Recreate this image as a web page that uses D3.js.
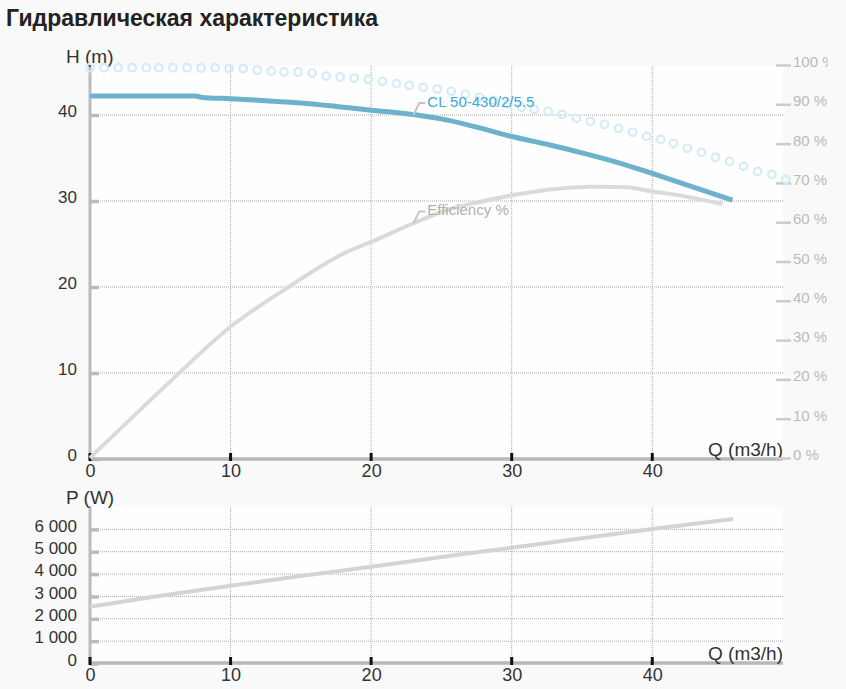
<!DOCTYPE html>
<html>
<head>
<meta charset="utf-8">
<script src="https://cdn.jsdelivr.net/npm/d3@7"></script>
<style>
  body { margin: 0; background: #f9f9f9; font-family: "Liberation Sans", Arial, sans-serif; }
  svg { display: block; overflow: hidden; }
</style>
</head>
<body>
<svg id="chart" width="828" height="689"></svg>
<script>
// head curve H (m) vs Q (m3/h)
const headQ = [0, 2.5, 5, 7.5, 8, 10, 12.5, 15, 17.5, 20, 22.5, 25, 27.5, 30, 32.5, 35, 37.5, 40, 42.5, 45.7];
const headH = [42.2, 42.2, 42.2, 42.2, 42.05, 41.9, 41.65, 41.4, 41.0, 40.55, 40.15, 39.55, 38.6, 37.5, 36.6, 35.6, 34.5, 33.2, 31.85, 30.1];

// efficiency % vs Q
const effQ = [0, 5.3, 10, 14, 18.3, 20, 23, 25.4, 27.8, 30.1, 33.5, 35.6, 36.3, 38.2, 40, 41.8, 43.4, 45];
const effV = [0, 18.1, 33.4, 43.2, 52.5, 55.0, 59.7, 63.1, 65.2, 66.9, 68.6, 69.0, 69.0, 68.9, 67.8, 66.9, 65.8, 64.6];

// upper (dotted) curve, H (m)
const maxQ = [0, 1, 2, 3, 4, 4.9, 5.9, 6.9, 7.9, 8.9, 9.9, 10.9, 11.9, 12.9, 13.8, 14.8, 15.8, 16.8, 17.8, 18.8,
  19.8, 20.8, 21.8, 22.7, 23.7, 24.7, 25.7, 26.7, 27.7, 28.7, 29.7, 30.7, 31.6, 32.6, 33.6, 34.6, 35.6, 36.6,
  37.6, 38.6, 39.6, 40.6, 41.5, 42.5, 43.5, 44.5, 45.5, 46.5, 47.5, 48.5, 49.5];
const maxH = [45.5, 45.5, 45.5, 45.5, 45.5, 45.5, 45.5, 45.5, 45.47, 45.5, 45.4, 45.4, 45.23, 45.12, 45.0, 45.0,
  44.88, 44.53, 44.42, 44.3, 44.15, 43.92, 43.65, 43.45, 43.22, 43.02, 42.76, 42.41, 42.06, 41.71, 41.3, 40.9,
  40.66, 40.43, 40.08, 39.62, 39.27, 38.92, 38.45, 37.99, 37.52, 37.17, 36.71, 36.13, 35.66, 35.08, 34.62,
  34.03, 33.45, 33.1, 32.52];

// power P (W) vs Q
const powQ = [0, 5, 10, 15, 20, 25, 30, 35, 40, 45.75];
const powW = [2540, 3030, 3480, 3910, 4330, 4760, 5180, 5600, 6020, 6460];

const qTicks = [0, 10, 20, 30, 40];
const hTicks = [0, 10, 20, 30, 40];
const effTicks = [0, 10, 20, 30, 40, 50, 60, 70, 80, 90, 100];
const pTicks = [0, 1000, 2000, 3000, 4000, 5000, 6000];

const svg = d3.select("#chart");
const left = 90, right = 783;

svg.append("text")
  .attr("x", 6).attr("y", 26)
  .attr("font-size", "23px").attr("font-weight", "bold").attr("fill", "#222")
  .text("Гидравлическая характеристика");

const x = d3.scaleLinear().domain([0, 49.3]).range([left, right]);
const yH = d3.scaleLinear().domain([0, 45.7]).range([459, 66]);
const yE = d3.scaleLinear().domain([0, 100]).range([458, 65]);
const yP = d3.scaleLinear().domain([0, 7000]).range([663.5, 507]);

function panel(yScale, yTicksList, top, bottom, title, fmt) {
  svg.append("rect")
    .attr("x", left).attr("y", top)
    .attr("width", right - left).attr("height", bottom - top)
    .attr("fill", "#fefefe");

  // grid
  svg.append("g").selectAll("line").data(qTicks.slice(1)).enter().append("line")
    .attr("x1", (d) => x(d)).attr("x2", (d) => x(d))
    .attr("y1", top).attr("y2", bottom)
    .attr("stroke", "#aaa").attr("stroke-width", 1).attr("stroke-dasharray", "1,1");
  svg.append("g").selectAll("line").data(yTicksList.slice(1)).enter().append("line")
    .attr("x1", left).attr("x2", right)
    .attr("y1", (d) => yScale(d)).attr("y2", (d) => yScale(d))
    .attr("stroke", "#aaa").attr("stroke-width", 1).attr("stroke-dasharray", "1,1");

  // left axis
  const ga = svg.append("g")
    .attr("transform", "translate(" + left + ",0)")
    .call(d3.axisLeft(yScale).tickValues(yTicksList).tickFormat(fmt).tickSize(8).tickPadding(5));
  ga.select(".domain").remove();
  ga.selectAll(".tick line").attr("x2", 9).attr("stroke", "#bbb").attr("stroke-width", 3.5);
  ga.selectAll(".tick text").attr("font-family", "Liberation Sans, Arial, sans-serif")
    .attr("font-size", "17px").attr("fill", "#333").attr("dy", "0.1em");
  svg.append("line")
    .attr("x1", left).attr("x2", left).attr("y1", top - 1).attr("y2", bottom)
    .attr("stroke", "#bbb").attr("stroke-width", 3);

  // bottom axis
  svg.append("line")
    .attr("x1", left).attr("x2", right).attr("y1", bottom).attr("y2", bottom)
    .attr("stroke", "#b8b8b8").attr("stroke-width", 3.5);
  const gb = svg.append("g")
    .attr("transform", "translate(0," + bottom + ")")
    .call(d3.axisBottom(x).tickValues(qTicks).tickSize(0).tickPadding(5));
  gb.select(".domain").remove();
  gb.selectAll(".tick text").attr("font-family", "Liberation Sans, Arial, sans-serif")
    .attr("font-size", "18px").attr("fill", "#333");
  svg.append("g").selectAll("line").data(qTicks).enter().append("line")
    .attr("x1", (d) => x(d)).attr("x2", (d) => x(d))
    .attr("y1", bottom - 6).attr("y2", bottom + 2)
    .attr("stroke", "#111").attr("stroke-width", 3);

  svg.append("text")
    .attr("x", 66).attr("y", top - 3)
    .attr("font-size", "19px").attr("fill", "#333").text(title);
  svg.append("text")
    .attr("x", right).attr("y", bottom - 3).attr("text-anchor", "end")
    .attr("font-size", "19px").attr("fill", "#333").text("Q (m3/h)");
}

const spaceFmt = (d) => d3.format(",")(d).replace(/,/g, " ");

panel(yH, hTicks, 66, 459, "H (m)", (d) => d);
panel(yP, pTicks, 507, 663, "P (W)", spaceFmt);

// right efficiency axis
const gr = svg.append("g")
  .attr("transform", "translate(776,0)")
  .call(d3.axisRight(yE).tickValues(effTicks).tickFormat((d) => d + " %").tickSize(15).tickPadding(2));
gr.select(".domain").remove();
gr.selectAll(".tick line").attr("stroke", "#ccc").attr("stroke-width", 2.5);
gr.selectAll(".tick text").attr("font-family", "Liberation Sans, Arial, sans-serif")
  .attr("font-size", "15px").attr("fill", "#bbb").attr("dy", "0.1em");

const line = (xs, ys, sx, sy) => d3.line().curve(d3.curveMonotoneX)
  .x((d, i) => sx(xs[i])).y((d, i) => sy(ys[i]))(xs);

// efficiency
svg.append("path")
  .attr("d", line(effQ, effV, x, yE))
  .attr("fill", "none").attr("stroke", "#dadada").attr("stroke-width", 4)
  .attr("stroke-linejoin", "round");

// head
svg.append("path")
  .attr("d", line(headQ, headH, x, yH))
  .attr("fill", "none").attr("stroke", "#6cb2cd").attr("stroke-width", 5)
  .attr("stroke-linejoin", "round");

// dotted upper curve
svg.append("g").selectAll("circle").data(maxQ).enter().append("circle")
  .attr("cx", (d) => x(d))
  .attr("cy", (d, i) => yH(maxH[i]))
  .attr("r", 3.8)
  .attr("fill", "none").attr("stroke", "#d5ebf6").attr("stroke-width", 2.2);

// power
svg.append("path")
  .attr("d", line(powQ, powW, x, yP))
  .attr("fill", "none").attr("stroke", "#d4d4d4").attr("stroke-width", 4);

// curve labels
function label(q, yPix, text, color) {
  const ax = x(q);
  svg.append("path")
    .attr("d", "M" + ax + "," + yPix + "L" + (ax + 6) + "," + (yPix - 12) + "L" + (ax + 12) + "," + (yPix - 12))
    .attr("fill", "none").attr("stroke", "#c4c4c4").attr("stroke-width", 2);
  svg.append("text")
    .attr("x", ax + 14).attr("y", yPix - 8)
    .attr("font-size", "15px").attr("fill", color).text(text);
}
label(23, yH(40.0), "CL 50-430/2/5.5", "#3aa8d8");
label(23, yE(59.7), "Efficiency %", "#b0b0b0");
</script>
</body>
</html>
